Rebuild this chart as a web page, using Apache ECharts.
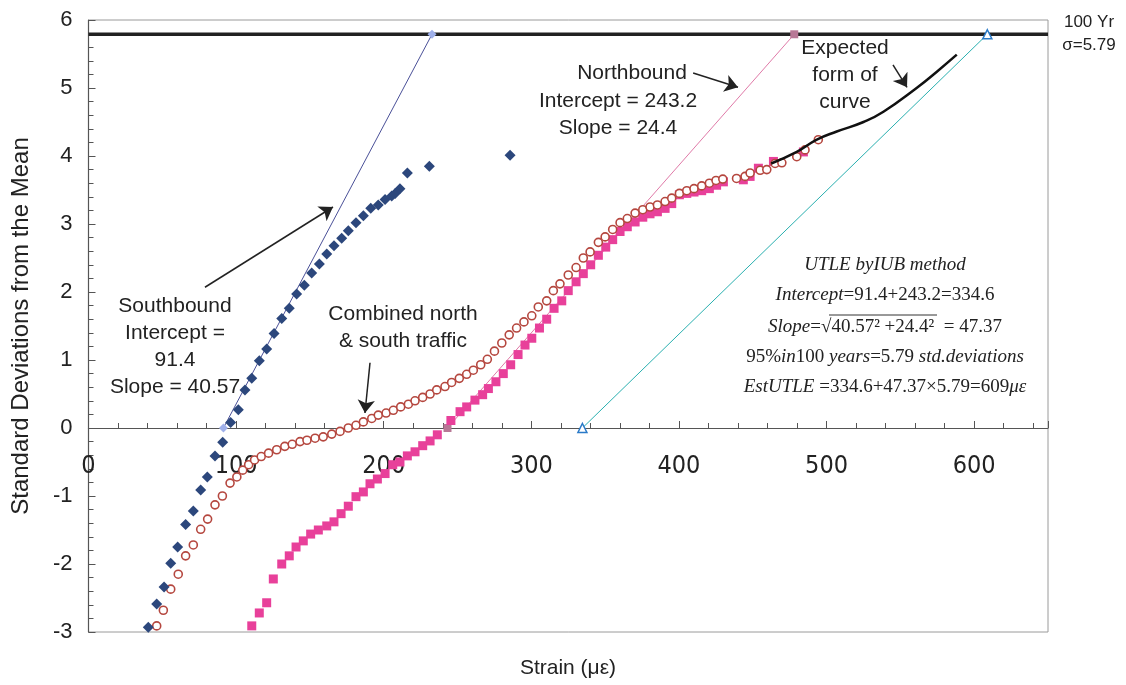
<!DOCTYPE html>
<html>
<head>
<meta charset="utf-8">
<script src="https://cdn.jsdelivr.net/npm/echarts@6/dist/echarts.min.js"></script>
<style>
html,body{margin:0;padding:0;background:#fff;}
#chart{width:1126px;height:685px;}
</style>
</head>
<body>
<div id="chart"></div>
<script>
// ---------- data ----------
const xTicks = [0, 100, 200, 300, 400, 500, 600];
const yTicks = [-3, -2, -1, 0, 1, 2, 3, 4, 5, 6];

const southbound = [[40.5,-2.93],[46.2,-2.59],[51.2,-2.34],[55.7,-1.99],[60.4,-1.75],[65.8,-1.42],[71,-1.22],[76,-0.91],[80.5,-0.72],[85.7,-0.41],[90.9,-0.21],[96.3,0.08],[101.5,0.27],[106,0.56],[110.6,0.73],[115.7,0.99],[120.7,1.16],[125.7,1.39],[130.9,1.61],[136,1.76],[141,1.97],[146.2,2.10],[151.2,2.28],[156.4,2.41],[161.4,2.56],[166.3,2.68],[171.5,2.79],[176,2.90],[181.2,3.02],[186.2,3.12],[191.2,3.23],[196.3,3.28],[200.9,3.36],[205.4,3.41],[207.7,3.45],[211,3.52],[216,3.75],[230.9,3.85],[285.6,4.01]];

const northbound = [[110.6,-2.91],[115.7,-2.72],[120.7,-2.57],[125.2,-2.22],[130.9,-2.0],[136,-1.88],[140.6,-1.75],[145.5,-1.66],[150.5,-1.56],[155.7,-1.50],[161.4,-1.44],[166.3,-1.38],[171.1,-1.26],[176,-1.15],[181.2,-1.01],[186.2,-0.94],[190.7,-0.82],[195.7,-0.75],[200.9,-0.67],[206.1,-0.54],[211,-0.50],[216,-0.41],[221.2,-0.35],[226.4,-0.26],[231.4,-0.19],[236.3,-0.10],[245.5,0.11],[251.7,0.24],[256.2,0.31],[261.8,0.41],[267,0.49],[270.9,0.58],[276,0.68],[281,0.80],[286,0.93],[291,1.08],[295.7,1.22],[300.3,1.32],[305.5,1.47],[310.4,1.60],[315.4,1.76],[320.6,1.87],[325,2.02],[330.3,2.15],[335.2,2.27],[340.2,2.40],[345.4,2.54],[350.4,2.66],[355.1,2.77],[360.1,2.89],[365,2.96],[370.3,3.03],[375.5,3.10],[380.4,3.15],[385.4,3.18],[390.6,3.23],[395.1,3.30],[400.3,3.43],[405.3,3.45],[410.2,3.47],[415.4,3.49],[420.6,3.52],[425.5,3.57],[430.1,3.62],[443.6,3.65],[448.2,3.70],[453.8,3.82],[464,3.92],[484.3,4.06]];

const combined = [[46.2,-2.91],[50.7,-2.68],[55.7,-2.37],[60.8,-2.15],[65.8,-1.88],[71,-1.72],[76,-1.49],[80.7,-1.34],[85.7,-1.13],[90.7,-1.0],[95.9,-0.81],[100.5,-0.72],[104.5,-0.62],[108.5,-0.54],[112.5,-0.47],[117,-0.42],[122,-0.37],[127.5,-0.32],[133,-0.27],[138,-0.24],[143.3,-0.20],[148,-0.18],[153.5,-0.15],[159,-0.13],[164.8,-0.09],[170.4,-0.05],[176,0.0],[181.2,0.04],[186.2,0.09],[191.9,0.14],[196.3,0.19],[201.6,0.22],[206.5,0.26],[211.5,0.31],[216.7,0.35],[221.2,0.40],[226.4,0.45],[231.4,0.50],[235.9,0.56],[241.5,0.61],[246,0.67],[251.2,0.73],[256.2,0.79],[260.7,0.85],[265.7,0.93],[270.2,1.01],[275,1.13],[280,1.25],[285,1.37],[290,1.47],[295,1.56],[300.3,1.65],[304.7,1.78],[310.4,1.87],[314.9,2.02],[319.4,2.12],[325,2.25],[330.3,2.36],[335.2,2.50],[339.8,2.59],[345.4,2.73],[350,2.81],[355.1,2.92],[360.1,3.02],[365,3.08],[370.3,3.16],[375.5,3.21],[380.4,3.25],[385.4,3.28],[390.6,3.33],[395.1,3.38],[400.3,3.45],[405.3,3.49],[410.2,3.52],[415.4,3.56],[420.6,3.60],[425.1,3.64],[429.7,3.66],[439,3.67],[444.8,3.70],[448.2,3.75],[455,3.79],[459.5,3.80],[465.1,3.89],[469.7,3.90],[479.8,3.99],[485.4,4.09],[494.4,4.24]];

const southFit = [[91.4, 0], [232.7, 5.79]];
const northFit = [[243.2, 0], [478.1, 5.79]];
const combinedFit = [[334.6, 0], [608.9, 5.79]];
const hundredYear = [[0, 5.79], [650, 5.79]];
const expectedCurve = [[462.5,3.89],[479.8,4.06],[493.4,4.24],[506.9,4.36],[525,4.50],[538.5,4.65],[561,5.0],[574.7,5.24],[588.2,5.49]];

const arrows = [
  [[78.9, 2.07], [165.6, 3.25]],
  [[190.7, 0.96], [187.3, 0.22]],
  [[409.6, 5.22], [440.0, 5.01]],
  [[545.0, 5.34], [554.5, 5.01]]
];

// ---------- chart ----------
const chart = echarts.init(document.getElementById('chart'), null, {renderer: 'canvas'});
const sans = "'Liberation Sans', Arial, sans-serif";
const serif = "'Liberation Serif', 'Times New Roman', serif";
const txt = '#222';
const gridTop = 20, gridBottom = 53, plotH = 685 - gridTop - gridBottom;
const yMin = -3, yMax = 6;

const option = {
  animation: false,
  backgroundColor: '#fff',
  grid: {left: 88.5, right: 78, top: gridTop, bottom: gridBottom, show: true, borderColor: '#9a9a9a', borderWidth: 1, backgroundColor: 'transparent'},
  xAxis: [{
    type: 'value', min: 0, max: 650, interval: 100,
    offset: -plotH * (0 - yMin) / (yMax - yMin),
    axisLine: {onZero: false, lineStyle: {color: '#555', width: 1.2}},
    axisTick: {inside: true, length: 7, lineStyle: {color: '#555'}},
    minorTick: {show: true, splitNumber: 5, length: 5, lineStyle: {color: '#555'}},
    splitLine: {show: false},
    z: 1,
    axisLabel: {
      margin: 26, fontSize: 25, color: txt,
      fontFamily: "'Liberation Sans Narrow', 'DejaVu Sans Condensed', " + sans,
      formatter: v => xTicks.indexOf(v) >= 0 ? String(v) : ''
    }
  }],
  yAxis: {
    type: 'value', min: yMin, max: yMax, interval: 1,
    name: 'Standard Deviations from the Mean', nameLocation: 'middle', nameGap: 55, nameRotate: 90,
    nameTextStyle: {fontSize: 24, color: txt, fontFamily: sans},
    axisLine: {onZero: false, lineStyle: {color: '#555', width: 1.2}},
    axisTick: {inside: true, length: 7, lineStyle: {color: '#555'}},
    minorTick: {show: true, splitNumber: 5, length: 5, lineStyle: {color: '#555'}},
    splitLine: {show: false},
    axisLabel: {margin: 16, fontSize: 22, color: txt, fontFamily: sans,
      formatter: v => yTicks.indexOf(v) >= 0 ? String(v) : ''}
  },
  series: [
    {type: 'line', data: hundredYear, symbol: 'none', lineStyle: {color: '#222', width: 3.5}, z: 2},
    {type: 'line', data: southFit, symbol: 'diamond', symbolSize: 9, showSymbol: true,
      itemStyle: {color: '#9fb0ea'}, lineStyle: {color: '#4a5098', width: 1}, z: 2},
    {type: 'line', data: northFit, symbol: 'rect', symbolSize: 8,
      itemStyle: {color: '#b87896'}, lineStyle: {color: '#e07aa8', width: 1}, z: 2},
    {type: 'line', data: combinedFit, symbol: 'triangle', symbolSize: 9,
      itemStyle: {color: '#fff', borderColor: '#2a7ac8', borderWidth: 1.5}, lineStyle: {color: '#2ab0b0', width: 1}, z: 2},
    {type: 'line', data: expectedCurve, smooth: true, symbol: 'none', lineStyle: {color: '#111', width: 2.5}, z: 4},
    {type: 'scatter', data: northbound, symbol: 'rect', symbolSize: 9, itemStyle: {color: '#e8409a', opacity: 1}, z: 3},
    {type: 'scatter', data: combined, symbol: 'circle', symbolSize: 8,
      itemStyle: {color: '#fff', borderColor: '#b5473f', borderWidth: 1.6, opacity: 1}, z: 3},
    {type: 'scatter', data: southbound, symbol: 'diamond', symbolSize: 11, itemStyle: {color: '#2c477c', opacity: 1}, z: 3},
    {type: 'lines', coordinateSystem: 'cartesian2d', polyline: false,
      data: arrows.map(a => ({coords: a})),
      symbol: ['none', 'arrow'], symbolSize: 13,
      lineStyle: {color: '#222', width: 1.5, opacity: 1}, z: 5}
  ],
  graphic: [
    {type: 'text', x: 175, y: 347, style: {text: 'Southbound\nIntercept =\n91.4\nSlope = 40.57', align: 'center', verticalAlign: 'middle', lineHeight: 27, font: '21px ' + sans, fill: txt}, z: 10},
    {type: 'text', x: 403, y: 328, style: {text: 'Combined north\n& south traffic', align: 'center', verticalAlign: 'middle', lineHeight: 27, font: '21px ' + sans, fill: txt}, z: 10},
    {type: 'text', x: 632, y: 73, style: {text: 'Northbound', align: 'center', verticalAlign: 'middle', font: '21px ' + sans, fill: txt}, z: 10},
    {type: 'text', x: 618, y: 101, style: {text: 'Intercept = 243.2', align: 'center', verticalAlign: 'middle', font: '21px ' + sans, fill: txt}, z: 10},
    {type: 'text', x: 618, y: 128, style: {text: 'Slope = 24.4', align: 'center', verticalAlign: 'middle', font: '21px ' + sans, fill: txt}, z: 10},
    {type: 'text', x: 845, y: 75, style: {text: 'Expected\nform of\ncurve', align: 'center', verticalAlign: 'middle', lineHeight: 27, font: '21px ' + sans, fill: txt}, z: 10},
    {type: 'text', x: 1089, y: 22, style: {text: '100 Yr', align: 'center', verticalAlign: 'middle', font: '17px ' + sans, fill: txt}, z: 10},
    {type: 'text', x: 1089, y: 45, style: {text: 'σ=5.79', align: 'center', verticalAlign: 'middle', font: '17px ' + sans, fill: txt}, z: 10},
    {type: 'text', x: 568, y: 668, style: {text: 'Strain (με)', align: 'center', verticalAlign: 'middle', font: '21px ' + sans, fill: txt}, z: 10},
    {type: 'text', x: 885, y: 265, style: {text: '{i|UTLE byIUB method}', align: 'center', verticalAlign: 'middle',
      rich: {i: {font: 'italic 19px ' + serif, fill: txt}}}, z: 10},
    {type: 'text', x: 885, y: 295, style: {text: '{i|Intercept}{n|=91.4+243.2=334.6}', align: 'center', verticalAlign: 'middle',
      rich: {i: {font: 'italic 19px ' + serif, fill: txt}, n: {font: '19px ' + serif, fill: txt}}}, z: 10},
    {type: 'text', x: 885, y: 327, style: {text: '{i|Slope}{n|=√40.57² +24.4²  = 47.37}', align: 'center', verticalAlign: 'middle',
      rich: {i: {font: 'italic 19px ' + serif, fill: txt}, n: {font: '19px ' + serif, fill: txt}}}, z: 10},
    {type: 'line', shape: {x1: 829, y1: 315, x2: 937, y2: 315}, style: {stroke: '#333', lineWidth: 1}, z: 10},
    {type: 'text', x: 885, y: 357, style: {text: '{n|95%}{i|in}{n|100 }{i|years}{n|=5.79 }{i|std.deviations}', align: 'center', verticalAlign: 'middle',
      rich: {i: {font: 'italic 19px ' + serif, fill: txt}, n: {font: '19px ' + serif, fill: txt}}}, z: 10},
    {type: 'text', x: 885, y: 387, style: {text: '{i|EstUTLE}{n| =334.6+47.37×5.79=609}{i|με}', align: 'center', verticalAlign: 'middle',
      rich: {i: {font: 'italic 19px ' + serif, fill: txt}, n: {font: '19px ' + serif, fill: txt}}}, z: 10}
  ]
};
chart.setOption(option);
</script>
</body>
</html>
